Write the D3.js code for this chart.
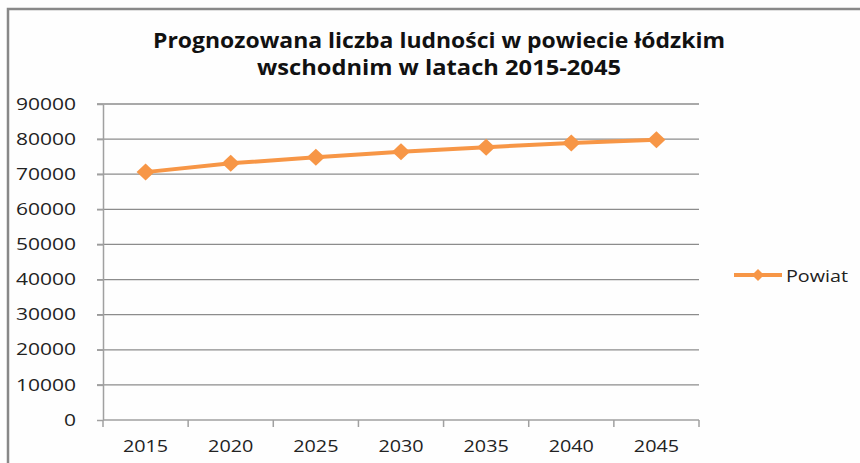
<!DOCTYPE html>
<html>
<head>
<meta charset="utf-8">
<script src="https://d3js.org/d3.v7.min.js"></script>
<style>
  body { margin: 0; background: #fff; }
  text { font-family: "Open Sans", "DejaVu Sans", sans-serif; }
  .grid line { stroke: #8c8c8c; stroke-width: 1.3px; }
  .axis path, .axis line { stroke: #a0a0a0; stroke-width: 1.5px; }
</style>
</head>
<body>
<svg id="chart" width="860" height="463"></svg>
<script>
// chart data
const years = ["2015", "2020", "2025", "2030", "2035", "2040", "2045"];
const population = [70600, 73100, 74800, 76400, 77700, 78900, 79800];
const yTicks = [0, 10000, 20000, 30000, 40000, 50000, 60000, 70000, 80000, 90000];
const seriesName = "Powiat";
const titleLines = ["Prognozowana liczba ludności w powiecie łódzkim", "wschodnim w latach 2015-2045"];

const svg = d3.select("#chart");
const orange = "#f79646";
const textCol = "#222";

// the source picture is stretched sideways, so text gets a fixed width per glyph
const stretch = (sel, perChar) => sel.attr("textLength", d => String(d).length * perChar)
                                     .attr("lengthAdjust", "spacingAndGlyphs");

// frame around the chart
svg.append("rect").attr("width", 860).attr("height", 463).attr("fill", "#fefefe");
svg.append("path").attr("d", "M8,463 V9 H860")
   .attr("fill", "none").attr("stroke", "#888").attr("stroke-width", 2.5);

const plot = { left: 103, right: 699, top: 104, bottom: 420 };

const x = d3.scaleBand().domain(years).range([plot.left, plot.right]);
const y = d3.scaleLinear().domain([0, 90000]).range([plot.bottom, plot.top]);

// gridlines
svg.append("g").attr("class", "grid")
   .selectAll("line").data(yTicks.filter(d => d > 0)).join("line")
   .attr("x1", plot.left - 6).attr("x2", plot.right)
   .attr("y1", d => y(d)).attr("y2", d => y(d));

// y axis
const yAxis = svg.append("g").attr("class", "axis")
   .attr("transform", `translate(${plot.left},0)`)
   .call(d3.axisLeft(y).tickValues(yTicks).tickFormat(d3.format("d"))
           .tickSize(6).tickSizeOuter(0).tickPadding(21));
yAxis.selectAll("text").attr("font-size", 16).attr("fill", textCol)
     .call(stretch, 12);

// x axis with ticks on band edges
const xAxis = svg.append("g").attr("class", "axis")
   .attr("transform", `translate(0,${plot.bottom})`);
xAxis.append("line").attr("x1", plot.left).attr("x2", plot.right);
xAxis.selectAll("line.tk").data(d3.range(years.length + 1)).join("line").attr("class", "tk")
   .attr("x1", i => plot.left + i * x.step()).attr("x2", i => plot.left + i * x.step())
   .attr("y1", 0).attr("y2", 7);
xAxis.selectAll("text").data(years).join("text")
   .attr("x", d => x(d) + x.bandwidth() / 2).attr("y", 32)
   .attr("text-anchor", "middle").attr("font-size", 16).attr("fill", textCol)
   .text(d => d)
   .call(stretch, 11.3);

// series
const pts = years.map((d, i) => ({ year: d, value: population[i] }));
const cx = d => x(d.year) + x.bandwidth() / 2;
svg.append("path").datum(pts)
   .attr("fill", "none").attr("stroke", orange).attr("stroke-width", 4)
   .attr("d", d3.line().x(cx).y(d => y(d.value)));

const diamond = "M0,-8.5 L9,0 L0,8.5 L-9,0 Z";
svg.selectAll("path.mk").data(pts).join("path").attr("class", "mk")
   .attr("transform", d => `translate(${cx(d)},${y(d.value)})`)
   .attr("d", diamond).attr("fill", orange);

// legend
const lg = svg.append("g").attr("transform", "translate(734,275)");
lg.append("line").attr("x1", 0).attr("x2", 48).attr("stroke", orange).attr("stroke-width", 4);
lg.append("path").attr("d", "M0,-6 L6,0 L0,6 L-6,0 Z").attr("transform", "translate(24,0)").attr("fill", orange);
lg.append("text").datum(seriesName).attr("x", 52).attr("y", 7)
  .attr("font-size", 16).attr("fill", textCol).text(d => d)
  .attr("textLength", 62).attr("lengthAdjust", "spacingAndGlyphs");

// title
const titleWidths = [572, 364];
svg.append("g").selectAll("text").data(titleLines).join("text")
   .attr("x", 439).attr("y", (d, i) => 47.5 + i * 27)
   .attr("text-anchor", "middle").attr("font-size", 20.5).attr("font-weight", "bold")
   .attr("fill", "#111").text(d => d)
   .attr("textLength", (d, i) => titleWidths[i]).attr("lengthAdjust", "spacingAndGlyphs");
</script>
</body>
</html>
